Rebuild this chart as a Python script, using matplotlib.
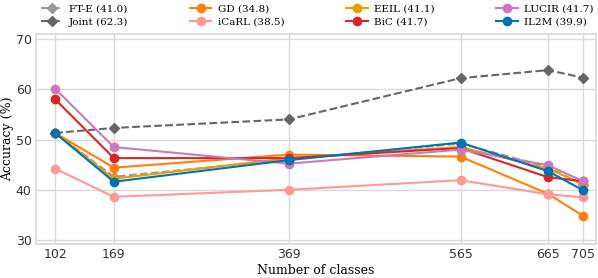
import matplotlib
matplotlib.use('Agg')
import matplotlib.pyplot as plt

classes = [102, 169, 369, 565, 665, 705]

ft_e = [51.3, 42.6, 46.0, 49.2, 44.5, 41.0]
joint = [51.3, 52.3, 54.0, 62.2, 63.8, 62.3]
gd = [51.3, 44.4, 47.0, 46.6, 39.2, 34.8]
icarl = [44.2, 38.6, 40.0, 41.9, 39.1, 38.5]
eeil = [51.3, 42.2, 46.3, 48.5, 44.2, 41.1]
bic = [58.0, 46.3, 46.3, 48.3, 42.5, 41.7]
lucir = [60.1, 48.5, 45.2, 48.0, 44.9, 41.7]
il2m = [51.3, 41.6, 45.9, 49.4, 43.7, 39.9]

serif = 'DejaVu Serif'

fig = plt.figure(figsize=(5.98, 2.78), dpi=100)
ax = fig.add_axes([0.060, 0.122, 0.937, 0.756])

ax.plot(classes, ft_e, '--D', color='#999999', lw=1.5, ms=5, label='FT-E (41.0)')
ax.plot(classes, joint, '--D', color='#666666', lw=1.5, ms=5, label='Joint (62.3)')
ax.plot(classes, gd, '-o', color='#ff7f0e', lw=1.5, ms=6, label='GD (34.8)')
ax.plot(classes, icarl, '-o', color='#ff9896', lw=1.5, ms=6, label='iCaRL (38.5)')
ax.plot(classes, eeil, '-o', color='#e69f00', lw=1.5, ms=6, label='EEIL (41.1)')
ax.plot(classes, bic, '-o', color='#d62728', lw=1.5, ms=6, label='BiC (41.7)')
ax.plot(classes, lucir, '-o', color='#cc78bc', lw=1.5, ms=6, label='LUCIR (41.7)')
ax.plot(classes, il2m, '-o', color='#0173b2', lw=1.5, ms=6, label='IL2M (39.9)')

ax.set_xlim(80, 720)
ax.set_ylim(29.2, 71)
ax.set_xticks(classes)
ax.set_yticks([30, 40, 50, 60, 70])
ax.tick_params(labelsize=9, length=0, pad=3, colors='#333333')
ax.grid(True, color='#d9d9d9', lw=1)
for s in ax.spines.values():
    s.set_color('#d9d9d9')
    s.set_linewidth(1.2)

ax.set_xlabel('Number of classes', family=serif, fontsize=9, labelpad=2)
ax.set_ylabel('Accuracy (%)', family=serif, fontsize=9, labelpad=1)

ax.legend(ncol=4, loc='lower center', bbox_to_anchor=(0.502, 1.035), frameon=False,
          prop={'family': serif, 'size': 7.5}, columnspacing=5.9, handlelength=2.1,
          handletextpad=0.6, labelspacing=0.35, borderaxespad=0, borderpad=0)

fig.savefig('out.png', dpi=100)
